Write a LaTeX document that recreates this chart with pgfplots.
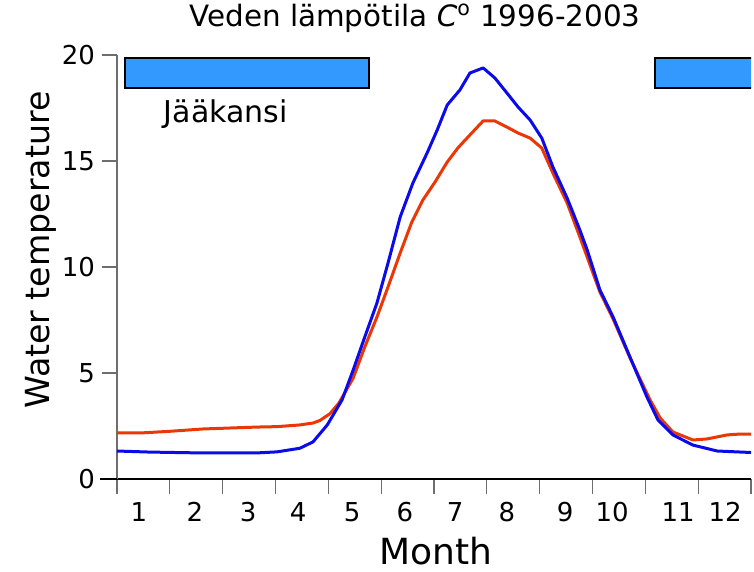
\documentclass[border=0pt]{standalone}
\usepackage{fontspec}
\setmainfont{DejaVu Sans}
\usepackage{pgfplots}
\pgfplotsset{compat=1.18}
\definecolor{iceblue}{RGB}{51,153,255}
\definecolor{lineblue}{RGB}{10,10,235}
\definecolor{linered}{RGB}{235,55,5}
\definecolor{axgray}{RGB}{110,110,110}
\begin{document}
\begin{tikzpicture}
\begin{axis}[
  scale only axis, width=317pt, height=212pt,
  xmin=0, xmax=12, ymin=0, ymax=20,
  axis lines*=left,
  x axis line style={black, line width=0.7pt},
  y axis line style={axgray, line width=0.7pt},
  tick align=outside,
  major tick length=7.5pt,
  tick style={axgray, line width=0.6pt},
  xtick={0,1,...,12}, xticklabels={},
  extra x ticks={0.416,1.476,2.48,3.43,4.45,5.45,6.40,7.38,8.48,9.37,10.62,11.51},
  extra x tick labels={1,2,3,4,5,6,7,8,9,10,11,12},
  extra x tick style={major tick length=0pt, tick style={draw=none},
     xticklabel style={anchor=base, yshift=-21pt}},
  ytick={0,5,10,15,20},
  yticklabel style={anchor=east},
  /pgf/number format/assume math mode=true,
  tick label style={font=\fontsize{13}{15}\selectfont},
  title={Veden lämpötila \textit{C}\textsuperscript{o} 1996-2003},
  title style={at={(axis description cs:0.47,1.04)}, anchor=base, font=\fontsize{14.7}{17}\selectfont},
  xlabel={Month},
  xlabel style={at={(axis description cs:0.503,-0.2028)}, anchor=base, font=\fontsize{18}{21}\selectfont},
  ylabel={Water temperature},
  ylabel style={at={(axis description cs:-0.1057,0.54)}, anchor=base, rotate=0, font=\fontsize{16.6}{19}\selectfont},
  clip=true,
]
\addplot[fill=iceblue, draw=black, line width=1pt] coordinates {(0.15,18.44) (4.77,18.44) (4.77,19.86) (0.15,19.86)} -- cycle;
\addplot[fill=iceblue, draw=black, line width=1pt] coordinates {(10.18,18.44) (12.3,18.44) (12.3,19.86) (10.18,19.86)} -- cycle;
\addplot[linered, line width=1.5pt, line join=round] coordinates {
(0,2.17) (0.44,2.17) (1.0,2.25) (1.63,2.36) (2.65,2.45) (3.03,2.47) (3.46,2.55) (3.71,2.64) (3.84,2.76) (4.03,3.08)
(4.20,3.58) (4.47,4.76) (4.69,6.23) (4.92,7.64) (5.13,9.06) (5.36,10.66) (5.58,12.12) (5.79,13.16)
(6.02,14.01) (6.25,14.95) (6.45,15.61) (6.68,16.23) (6.93,16.89) (7.15,16.89) (7.38,16.60) (7.59,16.32)
(7.82,16.08) (8.04,15.61) (8.25,14.43) (8.52,13.02) (8.76,11.42) (9.14,8.82) (9.39,7.55) (9.71,5.71)
(10.09,3.73) (10.28,2.88) (10.52,2.22) (10.90,1.84) (11.17,1.89) (11.55,2.08) (11.79,2.12) (12,2.12)};
\addplot[lineblue, line width=1.5pt, line join=round] coordinates {
(0,1.32) (0.62,1.27) (1.57,1.23) (2.65,1.23) (3.03,1.28) (3.46,1.45) (3.71,1.75) (3.98,2.55)
(4.26,3.73) (4.47,5.14) (4.69,6.70) (4.92,8.30) (5.13,10.19) (5.36,12.36) (5.60,13.96) (5.87,15.38)
(6.06,16.46) (6.25,17.64) (6.49,18.35) (6.68,19.15) (6.93,19.39) (7.15,18.92) (7.38,18.21) (7.59,17.55)
(7.82,16.93) (8.04,16.08) (8.25,14.72) (8.52,13.25) (8.76,11.75) (8.90,10.80) (9.14,8.92) (9.39,7.64)
(9.71,5.75) (10.03,3.87) (10.24,2.78) (10.52,2.08) (10.90,1.60) (11.36,1.32) (12,1.25)};
\node[anchor=base, font=\fontsize{15}{18}\selectfont] at (axis cs:2.06,16.8) {Jääkansi};
\coordinate (O) at (rel axis cs:0,0);
\end{axis}
\draw[black, line width=0.7pt] (O) -- ++(-8.5pt,0);
\pgfresetboundingbox
\path[use as bounding box] (O) ++(-58.5pt,-46.5pt) rectangle ++(377pt,286pt);
\end{tikzpicture}
\end{document}
